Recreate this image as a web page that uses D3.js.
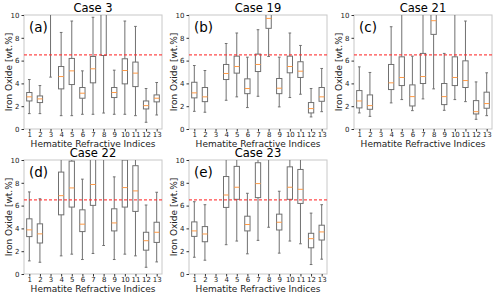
<!DOCTYPE html>
<html>
<head>
<meta charset="utf-8">
<script src="https://cdn.jsdelivr.net/npm/d3@7"></script>
<style>
  body { margin: 0; background: #fff; }
  svg { display: block; font-family: "DejaVu Sans", sans-serif; }
</style>
</head>
<body>
<script>
// box stats per index: [whisker low, Q1, median, Q3, whisker high]; null = nothing drawn
const indices = [1,2,3,4,5,6,7,8,9,10,11,12,13];
const yTicks = [0,2,4,6,8,10];
const threshold = 6.5;

const case3 = [
  [1.35,2.46,2.82,3.2,4.34],
  [1.35,2.32,2.64,2.9,3.81],
  [4.55,11,12,13,15],
  [1.17,3.52,4.6,5.48,8.47],
  [1.17,3.9,5.1,6.19,9.47],
  [1.29,2.7,3.14,3.64,5.1],
  [1.29,4.05,5.28,6.36,9.8],
  [1.4,6.45,11,12,14],
  [1.29,2.76,3.2,3.64,5.16],
  [1.29,3.96,5.13,6.16,9.47],
  [1.17,3.72,4.9,5.87,9.0],
  [0.59,1.76,2.05,2.46,3.55],
  [1.23,2.38,2.7,2.99,4.08]
];
const case19 = [
  [1.55,2.73,3.17,4.1,5.57],
  [1.47,2.4,2.82,3.64,5.13],
  null,
  [2.52,4.34,4.87,5.66,7.5],
  [2.82,4.9,5.48,6.39,8.42],
  [1.88,3.1,3.55,4.4,6.3],
  [2.87,5.04,5.66,6.57,8.71],
  [6.36,8.83,9.7,10.3,12],
  [1.94,3.1,3.58,4.43,6.3],
  [2.76,4.93,5.48,6.39,8.42],
  [3.05,4.52,5.07,5.9,7.33],
  [1.06,1.41,1.79,2.32,3.55],
  [1.52,2.43,2.82,3.64,5.31]
];
const case21 = [
  [1.41,1.85,2.46,3.37,5.45],
  [1.11,1.73,2.05,2.99,4.96],
  null,
  [2.29,3.46,4.05,5.66,8.97],
  [2.58,3.81,4.52,6.33,11],
  [1.61,2.02,2.84,3.87,6.39],
  [2.64,3.99,4.6,6.63,11],
  [3.52,8.3,9.5,10.5,13],
  [1.64,2.14,2.84,3.99,6.63],
  [2.58,3.81,4.52,6.33,11],
  [2.4,3.64,4.25,5.98,9.47],
  [0.85,1.32,1.52,2.49,4.13],
  [1.17,1.82,2.23,3.23,4.93]
];
const case22 = [
  [1.15,3.28,3.87,4.84,7.2],
  [1.03,2.72,3.52,4.4,6.6],
  null,
  [1.59,5.19,6.87,8.94,11],
  [1.74,5.87,7.55,9.9,12],
  [1.27,3.72,4.37,5.63,8.32],
  [1.8,6.02,7.85,10.2,12],
  [2.5,11,12,13,15],
  [1.27,3.78,4.48,5.72,8.52],
  [1.74,5.87,7.58,10.0,12],
  [1.59,5.49,7.29,9.5,11],
  [0.59,2.09,2.92,3.66,6.05],
  [1.06,2.77,3.66,4.54,7.17]
];
const case23 = [
  [1.47,3.3,3.78,4.57,6.34],
  [1.21,2.83,3.51,4.16,6.08],
  null,
  [2.57,5.84,6.93,8.55,11],
  [2.89,6.55,7.61,9.44,11],
  [1.77,3.78,4.34,5.07,7.08],
  [2.95,6.7,7.93,9.76,11],
  [4.1,11,12,13,15],
  [1.83,3.86,4.54,5.25,7.26],
  [2.89,6.55,7.61,9.4,11],
  [2.65,6.19,7.43,9.17,11],
  [0.83,2.3,3.1,3.57,5.34],
  [1.3,2.98,3.69,4.28,6.08]
];

const panels = [
  {title:"Case 3",  tag:"(a)", data:case3,  left:24,  top:15},
  {title:"Case 19", tag:"(b)", data:case19, left:189, top:15},
  {title:"Case 21", tag:"(c)", data:case21, left:354, top:15},
  {title:"Case 22", tag:"(d)", data:case22, left:24,  top:160},
  {title:"Case 23", tag:"(e)", data:case23, left:189, top:160}
];

const W = 500, H = 294;
const pw = 138, ph = 114;

const svg = d3.select("body").append("svg")
  .attr("width", W)
  .attr("height", H);

panels.forEach(function(p, k){
  const g = svg.append("g").attr("transform", "translate(" + p.left + "," + p.top + ")");

  const x = d3.scaleLinear().domain([0.5, 13.5]).range([0, pw]);
  const y = d3.scaleLinear().domain([0, 10]).range([ph, 0]);
  const step = x(2) - x(1);
  const bw = step * 0.5;

  g.append("clipPath").attr("id", "clip" + k)
    .append("rect").attr("width", pw).attr("height", ph);

  //frame
  g.append("rect")
    .attr("width", pw).attr("height", ph)
    .attr("fill", "none").attr("stroke", "#c8c8c8");

  const plot = g.append("g").attr("clip-path", "url(#clip" + k + ")");

  const boxes = plot.selectAll("g.box")
    .data(p.data.map(function(d, i){ return {i: indices[i], s: d}; }).filter(function(d){ return d.s; }))
    .enter().append("g").attr("class", "box");

  const stroke = "#707070";
  //whiskers
  boxes.append("line")
    .attr("x1", function(d){ return x(d.i); }).attr("x2", function(d){ return x(d.i); })
    .attr("y1", function(d){ return y(d.s[0]); }).attr("y2", function(d){ return y(d.s[1]); })
    .attr("stroke", stroke);
  boxes.append("line")
    .attr("x1", function(d){ return x(d.i); }).attr("x2", function(d){ return x(d.i); })
    .attr("y1", function(d){ return y(d.s[3]); }).attr("y2", function(d){ return y(d.s[4]); })
    .attr("stroke", stroke);
  //caps
  [0, 4].forEach(function(j){
    boxes.append("line")
      .attr("x1", function(d){ return x(d.i) - bw/4; }).attr("x2", function(d){ return x(d.i) + bw/4; })
      .attr("y1", function(d){ return y(d.s[j]); }).attr("y2", function(d){ return y(d.s[j]); })
      .attr("stroke", stroke);
  });
  //box
  boxes.append("rect")
    .attr("x", function(d){ return x(d.i) - bw/2; })
    .attr("width", bw)
    .attr("y", function(d){ return y(d.s[3]); })
    .attr("height", function(d){ return y(d.s[1]) - y(d.s[3]); })
    .attr("fill", "none").attr("stroke", stroke);
  //median
  boxes.append("line")
    .attr("x1", function(d){ return x(d.i) - bw/2; }).attr("x2", function(d){ return x(d.i) + bw/2; })
    .attr("y1", function(d){ return y(d.s[2]); }).attr("y2", function(d){ return y(d.s[2]); })
    .attr("stroke", "#ff9a45");

  //threshold line
  g.append("line")
    .attr("x1", 0).attr("x2", pw)
    .attr("y1", y(threshold)).attr("y2", y(threshold))
    .attr("stroke", "#ff2a2a").attr("stroke-opacity", 0.85)
    .attr("stroke-width", 1.3).attr("stroke-dasharray", "3,2");

  //axes
  const yAxis = g.append("g")
    .call(d3.axisLeft(y).tickValues(yTicks).tickSize(2.5).tickPadding(2));
  const xAxis = g.append("g")
    .attr("transform", "translate(0," + ph + ")")
    .call(d3.axisBottom(x).tickValues(indices).tickSize(2.5).tickPadding(1));
  [xAxis, yAxis].forEach(function(a){
    a.select(".domain").remove();
    a.selectAll("text").attr("font-size", 7).attr("font-family", "DejaVu Sans").attr("fill", "#222");
    a.selectAll("line").attr("stroke", "#333");
  });

  //title
  g.append("text")
    .attr("x", pw/2).attr("y", -3)
    .attr("text-anchor", "middle")
    .attr("font-size", 11.5)
    .text(p.title);

  //panel tag
  g.append("text")
    .attr("x", 5).attr("y", 16.5)
    .attr("font-size", 13.5)
    .text(p.tag);

  //axis labels
  g.append("text")
    .attr("x", pw/2).attr("y", ph + 17.5)
    .attr("text-anchor", "middle")
    .attr("font-size", 9)
    .attr("fill", "#222")
    .text("Hematite Refractive Indices");

  g.append("text")
    .attr("transform", "rotate(-90)")
    .attr("x", -ph/2).attr("y", -12)
    .attr("text-anchor", "middle")
    .attr("font-size", 9)
    .attr("fill", "#222")
    .text("Iron Oxide [wt.%]");
});
</script>
</body>
</html>
